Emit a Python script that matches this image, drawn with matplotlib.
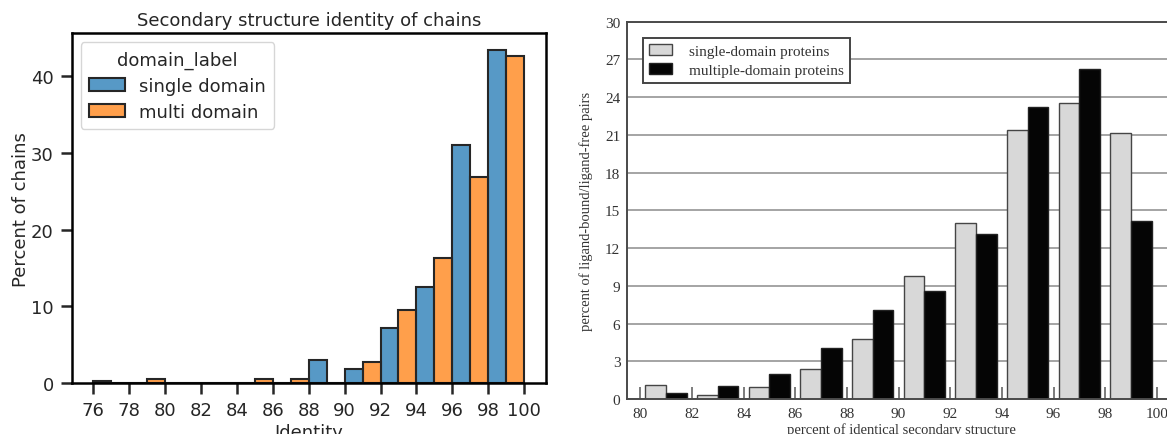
import matplotlib.pyplot as plt
import numpy as np
from matplotlib.colors import to_rgba

# Left panel: identity of chains, bins of width 2 (76..100), percent per group
left_bins = np.arange(76, 100, 2)
single_pct = [0.22, 0, 0, 0, 0, 0, 3.04, 1.83, 7.22, 12.57, 31.07, 43.4]
multi_pct = [0, 0.56, 0, 0, 0.56, 0.56, 0, 2.74, 9.49, 16.23, 26.8, 42.65]
left_ticks = np.arange(76, 101, 2)

# Right panel: percent of identical secondary structure, bins of 2 (80..100)
right_bins = np.arange(80, 100, 2)
single_r = [1.14, 0.29, 0.93, 2.36, 4.77, 9.8, 13.96, 21.41, 23.5, 21.12]
multi_r = [0.48, 1.01, 1.99, 4.03, 7.05, 8.56, 13.12, 23.24, 26.26, 14.12]
right_xticks = np.arange(80, 101, 2)
right_yticks = np.arange(0, 31, 3)

W, H = 1167, 435
fig = plt.figure(figsize=(W / 100, H / 100), dpi=100)

# ---- left: seaborn-like dodged histogram
txt = "#262626"
ax = fig.add_axes([71.7 / W, 51 / H, 474 / W, 349.7 / H])
ec = "#262626"
b1 = ax.bar(left_bins, single_pct, width=1, align="edge",
            facecolor=to_rgba("#1f77b4", 0.75), edgecolor=ec, linewidth=1.5,
            label="single domain")
b2 = ax.bar(left_bins + 1, multi_pct, width=1, align="edge",
            facecolor=to_rgba("#ff7f0e", 0.75), edgecolor=ec, linewidth=1.5,
            label="multi domain")
ax.set_xticks(left_ticks)
ax.set_yticks([0, 10, 20, 30, 40])
ax.tick_params(labelsize=13, length=8, width=1.8, colors=txt, pad=5)
for s in ax.spines.values():
    s.set_linewidth(1.8)
    s.set_color("black")
ax.set_title("Secondary structure identity of chains", fontsize=13, color=txt, pad=6)
ax.set_xlabel("Identity", fontsize=13, color=txt, labelpad=3)
ax.set_ylabel("Percent of chains", fontsize=13, color=txt, labelpad=1)
leg = ax.legend(title="domain_label", loc="upper left", fontsize=13,
                title_fontsize=13, handlelength=2.0, handleheight=0.7,
                labelspacing=0.45, borderpad=0.45, framealpha=0.8,
                edgecolor="#cccccc")
for t in leg.get_texts():
    t.set_color(txt)
leg.get_title().set_color(txt)

# ---- right: grayscale paired bars, serif text
serif = ["Liberation Serif", "DejaVu Serif"]
gtxt = "#333333"
ax2 = fig.add_axes([627.3 / W, 35 / H, (1175 - 627.3) / W, 377.3 / H])
ax2.set_axisbelow(True)
ax2.grid(axis="y", color="#8c8c8c", linewidth=1.1)
ax2.bar(right_bins + 0.2, single_r, width=0.8, align="edge",
        facecolor="#d8d8d8", edgecolor="#454545", linewidth=1.0,
        label="single-domain proteins")
ax2.bar(right_bins + 1.0, multi_r, width=0.8, align="edge",
        facecolor="#050505", edgecolor="#222222", linewidth=1.0,
        label="multiple-domain proteins")
ax2.set_xlim(79.5, 100.7)
ax2.set_ylim(0, 30)
ax2.set_xticks(right_xticks)
ax2.set_yticks(right_yticks)
ax2.tick_params(axis="x", direction="in", length=9, width=1.2, color="#666666",
                labelsize=11, labelcolor=gtxt, pad=6)
ax2.tick_params(axis="y", length=0, labelsize=11, labelcolor=gtxt, pad=5)
for lab in ax2.get_xticklabels() + ax2.get_yticklabels():
    lab.set_family(serif)
for s in ax2.spines.values():
    s.set_color("#4a4a4a")
    s.set_linewidth(1.4)
ax2.set_xlabel("percent of identical secondary structure", family=serif,
               fontsize=10.5, color=gtxt, labelpad=1)
ax2.set_ylabel("percent of ligand-bound/ligand-free pairs", family=serif,
               fontsize=10.5, color=gtxt, labelpad=9)
leg2 = ax2.legend(loc="upper left", bbox_to_anchor=(15.4 / 547.7, 1 - 16.3 / 377.3),
                  prop={"family": serif, "size": 11}, fancybox=False,
                  framealpha=1, edgecolor="#444444", borderaxespad=0,
                  handlelength=1.5, handleheight=0.75, handletextpad=1.1,
                  labelspacing=0.3, borderpad=0.4)
leg2.get_frame().set_linewidth(1.4)
for t in leg2.get_texts():
    t.set_color(gtxt)

fig.savefig("out.png", dpi=100)
